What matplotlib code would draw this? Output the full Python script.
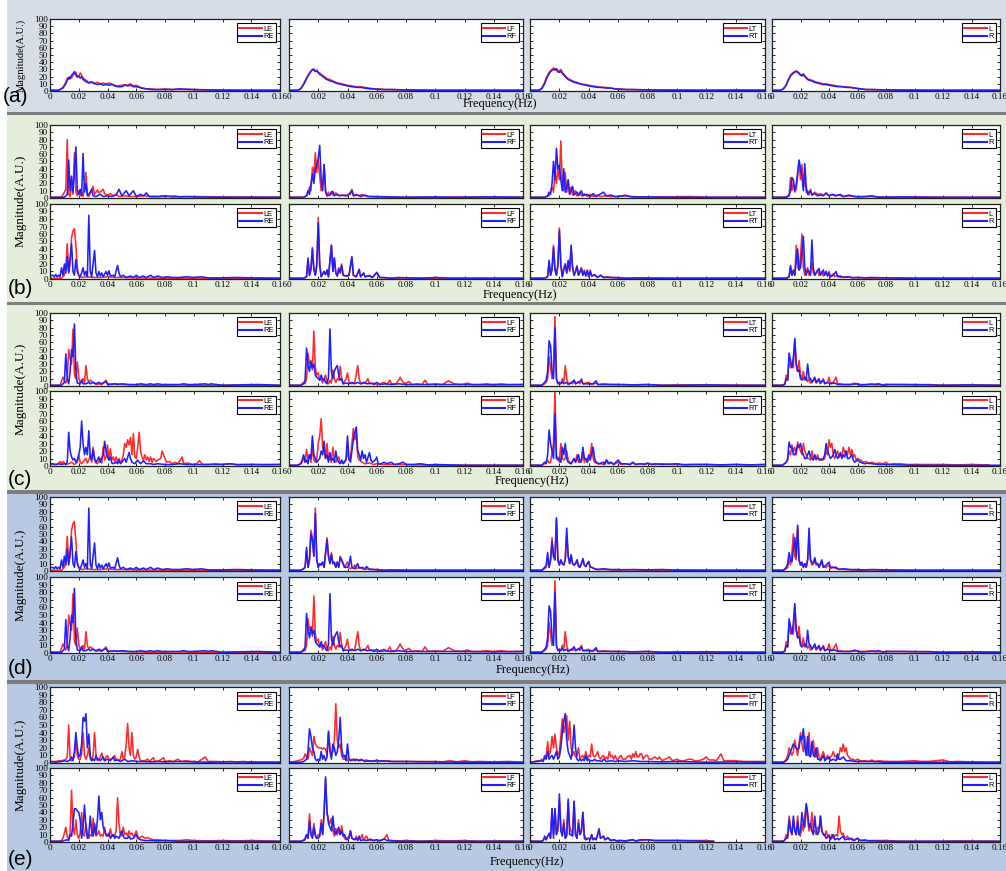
import matplotlib
matplotlib.use("Agg")
import matplotlib.pyplot as plt
from matplotlib.patches import Rectangle
from matplotlib.lines import Line2D

# ---------------- data ----------------
freq_ticks = [0, 0.02, 0.04, 0.06, 0.08, 0.10, 0.12, 0.14, 0.16]
freq_tick_labels = ['0', '0.02', '0.04', '0.06', '0.08', '0.1', '0.12', '0.14', '0.16']
mag_ticks = [0, 10, 20, 30, 40, 50, 60, 70, 80, 90, 100]
mag_tick_labels = ['0', '10', '20', '30', '40', '50', '60', '70', '80', '90', '100']
legend_labels = [('LE', 'RE'), ('LF', 'RF'), ('LT', 'RT'), ('L', 'R')]
panel_labels = ['(a)', '(b)', '(c)', '(d)', '(e)']

# (a)
a1_red = [(0,1),(0.006,1),(0.009,5),(0.011,12),(0.012,18),(0.013,16),(0.014,20),(0.015,18),(0.016,22),(0.017,24),(0.018,26),(0.019,21),(0.020,20),(0.021,25),(0.022,22),(0.023,18),(0.025,15),(0.027,12),(0.029,13),(0.031,11),(0.033,12),(0.035,10),(0.037,11),(0.039,10),(0.041,11),(0.043,10),(0.045,8),(0.047,7),(0.050,8),(0.052,9),(0.054,8),(0.056,10),(0.058,7),(0.060,8),(0.062,6),(0.064,4),(0.067,3),(0.070,3),(0.075,2),(0.080,3),(0.085,2),(0.090,2),(0.100,2),(0.110,1.5),(0.120,1.5),(0.140,1),(0.160,1)]
a1_blue = [(0,1),(0.006,1),(0.009,4),(0.011,10),(0.012,15),(0.013,19),(0.014,17),(0.015,22),(0.016,24),(0.017,27),(0.018,22),(0.019,19),(0.020,21),(0.021,18),(0.022,20),(0.023,16),(0.025,13),(0.027,11),(0.029,12),(0.031,10),(0.033,9),(0.035,10),(0.037,8),(0.039,9),(0.041,8),(0.043,9),(0.045,7),(0.047,6),(0.050,6),(0.052,8),(0.054,7),(0.056,8),(0.058,6),(0.060,6),(0.062,5),(0.064,4),(0.067,3),(0.070,2),(0.075,2),(0.080,2),(0.085,2),(0.090,3),(0.100,2),(0.110,1.5),(0.120,1),(0.140,1),(0.160,1)]
a2_red = [(0,1),(0.006,1),(0.008,3),(0.010,10),(0.011,14),(0.012,18),(0.013,22),(0.014,25),(0.015,28),(0.016,29),(0.017,31),(0.018,28),(0.019,29),(0.020,26),(0.021,25),(0.022,23),(0.023,22),(0.024,20),(0.025,19),(0.026,17),(0.028,16),(0.030,14),(0.032,12),(0.034,11),(0.036,10),(0.038,9),(0.040,8),(0.043,7),(0.046,6),(0.049,6),(0.052,5),(0.055,4),(0.058,3),(0.062,3),(0.066,2),(0.070,2),(0.080,1.5),(0.090,1.5),(0.100,1),(0.120,1),(0.160,1)]
a2_blue = [(0,1),(0.006,1),(0.008,3),(0.010,9),(0.011,13),(0.012,17),(0.013,21),(0.014,24),(0.015,27),(0.016,30),(0.017,29),(0.018,27),(0.019,28),(0.020,25),(0.021,23),(0.022,22),(0.023,20),(0.024,19),(0.025,17),(0.026,16),(0.028,14),(0.030,13),(0.032,11),(0.034,10),(0.036,9),(0.038,8),(0.040,7),(0.043,6),(0.046,5),(0.049,5),(0.052,4),(0.055,3),(0.058,3),(0.062,2),(0.066,2),(0.070,2),(0.080,1.5),(0.090,1),(0.100,1),(0.120,1),(0.160,1)]
a3_red = [(0,1),(0.006,1),(0.008,4),(0.010,12),(0.011,18),(0.012,22),(0.013,26),(0.014,28),(0.015,30),(0.016,32),(0.017,31),(0.018,29),(0.019,26),(0.020,28),(0.021,30),(0.022,26),(0.023,23),(0.024,21),(0.025,19),(0.026,17),(0.028,15),(0.030,13),(0.032,12),(0.034,10),(0.036,9),(0.038,9),(0.040,8),(0.043,7),(0.046,6),(0.049,5),(0.052,5),(0.055,4),(0.058,3),(0.062,3),(0.066,2),(0.070,2),(0.080,1.5),(0.100,1.5),(0.120,1),(0.140,1.5),(0.160,1)]
a3_blue = [(0,1),(0.006,1),(0.008,3),(0.010,10),(0.011,16),(0.012,20),(0.013,24),(0.014,27),(0.015,29),(0.016,30),(0.017,29),(0.018,31),(0.019,28),(0.020,26),(0.021,27),(0.022,25),(0.023,22),(0.024,20),(0.025,18),(0.026,16),(0.028,14),(0.030,12),(0.032,11),(0.034,10),(0.036,9),(0.038,8),(0.040,7),(0.043,6),(0.046,5),(0.049,5),(0.052,4),(0.055,4),(0.058,3),(0.062,2),(0.066,2),(0.070,2),(0.080,1.5),(0.100,1),(0.120,1),(0.160,1)]
a4_red = [(0,1),(0.006,1),(0.008,3),(0.010,9),(0.011,14),(0.012,18),(0.013,22),(0.014,24),(0.015,26),(0.016,27),(0.017,28),(0.018,27),(0.019,25),(0.020,23),(0.021,22),(0.022,24),(0.023,21),(0.024,19),(0.025,17),(0.026,16),(0.028,15),(0.030,13),(0.032,12),(0.034,11),(0.036,10),(0.038,10),(0.040,9),(0.043,8),(0.046,7),(0.049,6),(0.052,6),(0.055,5),(0.058,4),(0.062,3),(0.066,2),(0.070,2),(0.080,1.5),(0.100,1.5),(0.120,1),(0.140,1),(0.160,1)]
a4_blue = [(0,1),(0.006,1),(0.008,3),(0.010,8),(0.011,13),(0.012,17),(0.013,21),(0.014,23),(0.015,25),(0.016,26),(0.017,27),(0.018,26),(0.019,24),(0.020,22),(0.021,21),(0.022,23),(0.023,20),(0.024,18),(0.025,16),(0.026,15),(0.028,14),(0.030,12),(0.032,11),(0.034,10),(0.036,9),(0.038,9),(0.040,8),(0.043,7),(0.046,6),(0.049,6),(0.052,5),(0.055,5),(0.058,4),(0.062,3),(0.066,2),(0.070,2),(0.080,1.5),(0.100,1),(0.120,1),(0.160,1)]

# (b)
b11_red = [(0,1),(0.008,1),(0.010,8),(0.011,12),(0.012,80),(0.013,5),(0.014,2),(0.015,20),(0.016,5),(0.017,62),(0.018,8),(0.019,3),(0.020,10),(0.021,3),(0.022,8),(0.023,2),(0.025,35),(0.026,5),(0.027,2),(0.029,10),(0.030,16),(0.031,5),(0.033,11),(0.034,7),(0.036,10),(0.037,12),(0.038,6),(0.040,4),(0.042,6),(0.044,3),(0.046,5),(0.048,2),(0.052,3),(0.056,2),(0.060,2),(0.065,3),(0.070,2),(0.080,2),(0.087,3),(0.090,1.5),(0.100,2),(0.120,1.5),(0.160,1)]
b11_blue = [(0,1),(0.010,1),(0.012,5),(0.013,52),(0.014,10),(0.015,30),(0.016,8),(0.018,70),(0.019,10),(0.020,5),(0.021,12),(0.022,3),(0.023,61),(0.024,8),(0.025,20),(0.026,3),(0.028,8),(0.029,12),(0.030,3),(0.032,2),(0.035,5),(0.037,2),(0.040,3),(0.043,2),(0.046,4),(0.048,12),(0.050,3),(0.053,10),(0.055,3),(0.058,10),(0.060,2),(0.063,5),(0.065,3),(0.067,7),(0.069,2),(0.075,2),(0.080,3),(0.085,1.5),(0.095,2),(0.100,1.5),(0.120,1),(0.160,1)]
b12_red = [(0,1),(0.010,1),(0.012,3),(0.013,8),(0.014,15),(0.015,10),(0.016,42),(0.017,30),(0.018,62),(0.019,35),(0.020,52),(0.021,30),(0.022,10),(0.023,20),(0.024,45),(0.025,8),(0.026,3),(0.027,8),(0.028,4),(0.029,9),(0.030,4),(0.032,7),(0.034,3),(0.036,4),(0.038,3),(0.040,4),(0.042,5),(0.043,12),(0.044,4),(0.046,5),(0.048,3),(0.050,5),(0.052,3),(0.055,2),(0.060,1.5),(0.070,1),(0.100,1),(0.130,1.5),(0.160,1)]
b12_blue = [(0,1),(0.010,1),(0.012,3),(0.013,10),(0.014,5),(0.016,32),(0.017,20),(0.018,40),(0.019,45),(0.020,55),(0.021,72),(0.022,25),(0.023,10),(0.024,46),(0.025,10),(0.026,3),(0.028,4),(0.030,9),(0.031,3),(0.033,5),(0.035,3),(0.037,4),(0.040,3),(0.043,10),(0.044,3),(0.047,4),(0.049,2),(0.052,4),(0.054,2),(0.060,2),(0.070,1.5),(0.080,1),(0.100,1.5),(0.110,1),(0.140,1.5),(0.160,1)]
b13_red = [(0,1),(0.010,1),(0.013,3),(0.015,15),(0.016,8),(0.017,35),(0.018,20),(0.019,40),(0.020,25),(0.021,78),(0.022,20),(0.023,10),(0.024,35),(0.025,8),(0.026,20),(0.027,5),(0.028,15),(0.029,4),(0.031,10),(0.032,3),(0.034,8),(0.035,3),(0.037,6),(0.039,2),(0.041,5),(0.043,2),(0.046,4),(0.048,2),(0.051,3),(0.055,2),(0.060,2),(0.065,4),(0.068,2),(0.075,1.5),(0.090,1.5),(0.110,2),(0.120,1),(0.160,1)]
b13_blue = [(0,1),(0.010,1),(0.012,3),(0.013,8),(0.014,5),(0.015,20),(0.016,50),(0.017,25),(0.018,68),(0.019,40),(0.020,45),(0.021,25),(0.022,10),(0.023,40),(0.024,8),(0.025,15),(0.026,25),(0.027,5),(0.028,10),(0.029,16),(0.030,4),(0.032,8),(0.033,3),(0.035,10),(0.036,3),(0.039,5),(0.041,2),(0.043,6),(0.045,2),(0.050,8),(0.052,3),(0.055,4),(0.058,2),(0.065,3),(0.070,1.5),(0.080,1.5),(0.100,1),(0.160,1)]
b14_red = [(0,1),(0.010,1),(0.012,5),(0.013,28),(0.014,10),(0.015,22),(0.016,8),(0.017,12),(0.018,30),(0.019,50),(0.020,25),(0.021,46),(0.022,15),(0.023,28),(0.024,8),(0.025,10),(0.026,4),(0.027,12),(0.028,4),(0.030,8),(0.032,5),(0.034,6),(0.036,4),(0.038,6),(0.040,3),(0.042,5),(0.044,3),(0.047,4),(0.050,2),(0.055,3),(0.060,1.5),(0.070,2),(0.080,1),(0.100,1.5),(0.120,1),(0.160,1)]
b14_blue = [(0,1),(0.010,1),(0.012,3),(0.013,10),(0.014,28),(0.015,25),(0.016,10),(0.017,18),(0.018,35),(0.019,52),(0.020,40),(0.021,30),(0.022,10),(0.023,47),(0.024,15),(0.025,5),(0.026,8),(0.027,10),(0.028,4),(0.030,6),(0.032,3),(0.034,4),(0.036,3),(0.038,7),(0.040,3),(0.043,5),(0.045,3),(0.048,5),(0.050,2),(0.054,4),(0.058,2),(0.065,2),(0.070,3),(0.075,1),(0.090,1.5),(0.110,1),(0.160,1)]
b21_red = [(0,1),(0.008,1),(0.010,5),(0.011,15),(0.012,47),(0.013,10),(0.014,20),(0.015,55),(0.016,64),(0.017,67),(0.018,45),(0.019,15),(0.020,4),(0.022,2),(0.025,3),(0.030,2),(0.035,2),(0.040,3),(0.045,2),(0.050,2),(0.060,1.5),(0.080,1),(0.100,1),(0.160,1)]
b21_blue = [(0,4),(0.002,5),(0.003,3),(0.004,6),(0.005,3),(0.006,5),(0.007,3),(0.008,15),(0.009,5),(0.010,20),(0.011,8),(0.012,30),(0.013,8),(0.015,47),(0.016,10),(0.017,5),(0.018,26),(0.019,10),(0.020,5),(0.021,3),(0.022,8),(0.023,15),(0.024,5),(0.025,10),(0.026,3),(0.027,85),(0.028,10),(0.029,3),(0.031,38),(0.032,8),(0.033,3),(0.034,10),(0.035,4),(0.036,8),(0.037,3),(0.039,10),(0.040,5),(0.041,11),(0.042,4),(0.044,5),(0.045,3),(0.047,18),(0.048,8),(0.049,3),(0.051,5),(0.053,2),(0.056,4),(0.058,2),(0.060,5),(0.062,2),(0.065,4),(0.067,2),(0.070,5),(0.072,2),(0.075,4),(0.078,2),(0.082,3),(0.085,2),(0.090,2),(0.095,3),(0.100,2),(0.105,3),(0.110,1.5),(0.120,1.5),(0.130,2),(0.140,1.5),(0.160,1)]
b22_red = [(0,1),(0.010,1),(0.012,3),(0.013,25),(0.014,5),(0.015,15),(0.016,42),(0.017,15),(0.018,5),(0.019,20),(0.020,82),(0.021,20),(0.022,3),(0.024,10),(0.025,6),(0.026,12),(0.027,3),(0.029,45),(0.030,10),(0.031,28),(0.032,8),(0.033,4),(0.034,15),(0.035,10),(0.036,20),(0.037,5),(0.039,4),(0.041,5),(0.043,28),(0.044,5),(0.046,3),(0.048,12),(0.049,3),(0.051,8),(0.052,3),(0.055,5),(0.057,2),(0.060,8),(0.062,2),(0.065,1.5),(0.070,1),(0.080,1.5),(0.100,1),(0.160,1)]
b22_blue = [(0,1),(0.010,1),(0.012,3),(0.013,28),(0.014,5),(0.015,12),(0.016,40),(0.017,12),(0.018,5),(0.019,18),(0.020,75),(0.021,18),(0.022,3),(0.024,10),(0.025,6),(0.026,12),(0.027,3),(0.029,45),(0.030,10),(0.031,28),(0.032,8),(0.033,4),(0.034,13),(0.035,8),(0.036,18),(0.037,5),(0.039,4),(0.041,5),(0.043,30),(0.044,5),(0.046,3),(0.048,13),(0.049,3),(0.051,8),(0.052,3),(0.055,4),(0.057,2),(0.060,9),(0.062,2),(0.065,2),(0.070,1),(0.075,2),(0.080,1.5),(0.090,1),(0.100,2),(0.110,1),(0.160,1)]
b23_red = [(0,1),(0.010,1),(0.012,3),(0.013,22),(0.014,5),(0.015,15),(0.016,45),(0.017,15),(0.018,5),(0.019,20),(0.020,68),(0.021,20),(0.022,3),(0.023,15),(0.024,20),(0.025,8),(0.026,22),(0.027,10),(0.028,40),(0.029,15),(0.030,5),(0.031,10),(0.032,18),(0.033,5),(0.035,15),(0.036,5),(0.037,12),(0.038,4),(0.039,10),(0.040,3),(0.041,12),(0.042,4),(0.044,5),(0.046,2),(0.048,5),(0.050,2),(0.053,3),(0.055,2),(0.060,2),(0.065,1),(0.080,1.5),(0.100,1),(0.160,1)]
b23_blue = [(0,1),(0.010,1),(0.012,3),(0.013,25),(0.014,5),(0.015,12),(0.016,42),(0.017,12),(0.018,5),(0.019,18),(0.020,65),(0.021,18),(0.022,3),(0.023,12),(0.024,20),(0.025,8),(0.026,25),(0.027,12),(0.028,45),(0.029,15),(0.030,5),(0.031,10),(0.032,16),(0.033,5),(0.035,14),(0.036,5),(0.037,10),(0.038,4),(0.039,12),(0.040,3),(0.041,10),(0.042,4),(0.044,6),(0.046,2),(0.048,5),(0.050,2),(0.053,2),(0.055,2),(0.060,1.5),(0.065,1),(0.075,1.5),(0.080,1),(0.100,1),(0.160,1)]
b24_red = [(0,1),(0.010,1),(0.012,3),(0.013,15),(0.014,5),(0.015,10),(0.016,5),(0.017,45),(0.018,15),(0.019,12),(0.020,30),(0.021,60),(0.022,15),(0.023,5),(0.025,15),(0.026,5),(0.027,8),(0.028,22),(0.029,8),(0.030,5),(0.032,12),(0.033,5),(0.035,10),(0.036,4),(0.038,10),(0.039,4),(0.040,10),(0.041,3),(0.043,7),(0.044,3),(0.046,5),(0.048,2),(0.050,3),(0.055,2),(0.060,2),(0.070,1),(0.080,1.5),(0.100,1),(0.160,1)]
b24_blue = [(0,1),(0.010,1),(0.012,3),(0.013,18),(0.014,5),(0.015,12),(0.016,5),(0.017,25),(0.018,40),(0.019,12),(0.020,15),(0.021,35),(0.022,57),(0.023,15),(0.024,5),(0.025,12),(0.026,10),(0.027,5),(0.028,52),(0.029,15),(0.030,5),(0.031,8),(0.033,14),(0.034,5),(0.035,8),(0.036,12),(0.037,5),(0.038,10),(0.039,4),(0.040,8),(0.041,3),(0.043,5),(0.045,10),(0.046,3),(0.048,4),(0.050,2),(0.054,3),(0.057,1.5),(0.060,2),(0.065,1.5),(0.070,2),(0.080,1.5),(0.100,1),(0.160,1)]

# (c)
c11_red = [(0,1),(0.007,1),(0.009,12),(0.010,8),(0.011,4),(0.012,10),(0.013,50),(0.014,38),(0.015,30),(0.016,78),(0.017,15),(0.018,10),(0.019,33),(0.020,12),(0.021,3),(0.022,8),(0.023,10),(0.024,4),(0.025,28),(0.026,10),(0.027,5),(0.028,8),(0.030,5),(0.032,2),(0.034,3),(0.036,2),(0.039,8),(0.040,3),(0.043,2),(0.046,3),(0.050,2),(0.060,1.5),(0.070,1),(0.090,1.5),(0.100,1),(0.160,1)]
c11_blue = [(0,1),(0.008,1),(0.010,5),(0.011,44),(0.012,10),(0.013,3),(0.014,20),(0.015,50),(0.016,40),(0.017,85),(0.018,20),(0.019,4),(0.021,3),(0.022,8),(0.023,3),(0.025,3),(0.027,5),(0.028,3),(0.030,5),(0.032,3),(0.034,5),(0.036,3),(0.039,6),(0.040,2),(0.045,3),(0.047,2),(0.050,3),(0.055,2),(0.060,2),(0.063,3),(0.067,2),(0.070,3),(0.072,2),(0.075,3),(0.078,2),(0.085,2),(0.090,2),(0.093,3),(0.096,2),(0.100,2),(0.108,3),(0.110,2),(0.112,3),(0.120,1),(0.130,1.5),(0.145,2),(0.160,1)]
c12_red = [(0,1),(0.008,1),(0.010,5),(0.011,3),(0.012,10),(0.013,45),(0.014,30),(0.015,35),(0.016,22),(0.017,75),(0.018,25),(0.019,15),(0.020,18),(0.021,8),(0.022,10),(0.023,4),(0.025,15),(0.026,5),(0.027,3),(0.028,8),(0.029,4),(0.030,22),(0.031,10),(0.032,5),(0.033,10),(0.034,8),(0.035,27),(0.036,10),(0.037,3),(0.039,10),(0.040,18),(0.041,5),(0.043,3),(0.045,5),(0.047,28),(0.048,10),(0.049,3),(0.052,4),(0.054,10),(0.055,3),(0.058,4),(0.060,2),(0.062,3),(0.065,5),(0.067,2),(0.069,8),(0.070,3),(0.073,3),(0.075,8),(0.076,12),(0.077,8),(0.079,3),(0.082,6),(0.084,2),(0.088,3),(0.091,2),(0.093,8),(0.095,2),(0.100,3),(0.105,2),(0.109,7),(0.111,5),(0.113,3),(0.118,2),(0.122,4),(0.125,2),(0.130,2),(0.135,3),(0.140,2),(0.145,3),(0.150,2),(0.160,2)]
c12_blue = [(0,1),(0.008,1),(0.010,3),(0.011,8),(0.012,52),(0.013,30),(0.014,20),(0.015,33),(0.016,25),(0.017,30),(0.018,15),(0.019,12),(0.020,10),(0.021,8),(0.022,15),(0.023,8),(0.024,10),(0.025,5),(0.026,3),(0.027,12),(0.028,78),(0.029,20),(0.030,10),(0.031,20),(0.032,25),(0.033,28),(0.034,15),(0.035,8),(0.036,10),(0.037,3),(0.039,4),(0.041,3),(0.043,5),(0.045,3),(0.047,5),(0.049,3),(0.051,5),(0.053,3),(0.056,4),(0.058,2),(0.060,5),(0.062,2),(0.066,3),(0.070,2),(0.075,3),(0.080,2),(0.090,2),(0.100,2),(0.120,2),(0.140,1.5),(0.160,2)]
c13_red = [(0,1),(0.008,1),(0.010,3),(0.011,5),(0.012,10),(0.013,40),(0.014,25),(0.015,10),(0.016,20),(0.017,95),(0.018,10),(0.019,3),(0.020,5),(0.021,3),(0.022,10),(0.023,5),(0.024,28),(0.025,10),(0.026,3),(0.028,5),(0.029,3),(0.030,8),(0.031,3),(0.033,6),(0.034,3),(0.035,10),(0.036,3),(0.038,4),(0.040,5),(0.042,2),(0.045,4),(0.047,2),(0.050,3),(0.055,2),(0.060,2),(0.065,2),(0.070,1.5),(0.080,2),(0.090,1),(0.100,1.5),(0.160,1)]
c13_blue = [(0,1),(0.008,1),(0.010,5),(0.011,8),(0.012,20),(0.013,62),(0.014,55),(0.015,20),(0.016,10),(0.017,80),(0.018,10),(0.019,3),(0.020,5),(0.021,3),(0.022,6),(0.023,3),(0.025,5),(0.026,2),(0.028,4),(0.030,8),(0.031,3),(0.033,5),(0.035,8),(0.036,3),(0.038,3),(0.040,3),(0.043,3),(0.045,7),(0.046,2),(0.050,2),(0.055,2),(0.060,2),(0.070,1.5),(0.080,2),(0.090,1),(0.100,1),(0.120,1.5),(0.140,1),(0.160,1)]
c14_red = [(0,1),(0.007,1),(0.009,3),(0.010,15),(0.011,8),(0.012,40),(0.013,25),(0.014,30),(0.015,25),(0.016,62),(0.017,30),(0.018,20),(0.019,35),(0.020,15),(0.021,10),(0.022,20),(0.023,8),(0.024,12),(0.025,6),(0.026,10),(0.027,4),(0.028,5),(0.030,10),(0.031,4),(0.033,8),(0.034,3),(0.036,10),(0.037,4),(0.039,5),(0.040,12),(0.041,4),(0.043,5),(0.045,12),(0.046,3),(0.048,3),(0.050,2),(0.055,2),(0.058,4),(0.060,2),(0.065,2),(0.070,3),(0.072,1.5),(0.080,2),(0.090,2),(0.100,1.5),(0.110,2),(0.120,1),(0.140,1.5),(0.160,1)]
c14_blue = [(0,1),(0.007,1),(0.009,2),(0.010,10),(0.011,8),(0.012,45),(0.013,35),(0.014,25),(0.015,40),(0.016,65),(0.017,30),(0.018,20),(0.019,22),(0.020,10),(0.021,8),(0.022,10),(0.023,12),(0.024,8),(0.025,30),(0.026,12),(0.027,10),(0.028,5),(0.029,8),(0.030,12),(0.031,5),(0.033,10),(0.034,4),(0.036,8),(0.037,3),(0.039,5),(0.041,3),(0.044,4),(0.046,2),(0.050,2),(0.055,2),(0.060,3),(0.062,1.5),(0.070,2),(0.075,3),(0.078,1),(0.080,2),(0.100,2),(0.120,1),(0.140,1.5),(0.160,1)]
c21_red = [(0,2),(0.005,2),(0.007,6),(0.008,3),(0.009,6),(0.011,2),(0.013,3),(0.015,5),(0.017,2),(0.019,5),(0.020,15),(0.021,5),(0.022,3),(0.024,8),(0.025,10),(0.026,4),(0.027,8),(0.028,15),(0.029,5),(0.030,25),(0.031,8),(0.032,4),(0.033,3),(0.035,10),(0.036,4),(0.037,25),(0.038,8),(0.039,12),(0.040,28),(0.041,8),(0.042,23),(0.043,8),(0.044,12),(0.045,6),(0.046,12),(0.047,5),(0.048,10),(0.049,4),(0.050,8),(0.051,15),(0.052,30),(0.053,25),(0.054,35),(0.055,28),(0.056,38),(0.057,15),(0.058,43),(0.059,12),(0.060,10),(0.061,25),(0.062,45),(0.063,20),(0.064,12),(0.065,8),(0.066,15),(0.067,8),(0.068,12),(0.069,6),(0.070,12),(0.071,5),(0.072,10),(0.074,6),(0.075,8),(0.077,10),(0.078,20),(0.079,15),(0.080,10),(0.081,5),(0.083,6),(0.085,3),(0.087,5),(0.089,3),(0.092,12),(0.093,3),(0.096,4),(0.099,2),(0.102,3),(0.104,7),(0.106,2),(0.110,2),(0.115,3),(0.120,2),(0.125,3),(0.130,1.5),(0.140,2),(0.150,1.5),(0.160,2)]
c21_blue = [(0,3),(0.002,3),(0.004,2),(0.006,3),(0.008,2),(0.010,3),(0.011,2),(0.012,5),(0.013,45),(0.014,20),(0.015,12),(0.016,8),(0.017,10),(0.018,5),(0.019,8),(0.020,15),(0.021,25),(0.022,60),(0.023,30),(0.024,15),(0.025,25),(0.026,15),(0.027,47),(0.028,12),(0.029,8),(0.030,22),(0.031,10),(0.032,5),(0.033,8),(0.034,12),(0.035,5),(0.036,10),(0.037,15),(0.038,33),(0.039,20),(0.040,12),(0.041,8),(0.042,12),(0.043,4),(0.044,3),(0.046,5),(0.047,3),(0.048,8),(0.049,3),(0.050,5),(0.052,10),(0.053,5),(0.055,18),(0.056,10),(0.057,5),(0.059,3),(0.061,8),(0.063,3),(0.065,7),(0.067,3),(0.070,3),(0.072,2),(0.075,3),(0.080,2),(0.085,2),(0.090,3),(0.095,2),(0.100,2),(0.110,2),(0.120,2),(0.125,3),(0.130,2),(0.140,2),(0.150,2),(0.160,2)]
c22_red = [(0,1),(0.006,1),(0.008,3),(0.009,5),(0.010,12),(0.011,5),(0.012,22),(0.013,8),(0.014,15),(0.015,5),(0.016,25),(0.017,8),(0.018,5),(0.019,10),(0.020,30),(0.021,40),(0.022,63),(0.023,25),(0.024,20),(0.025,10),(0.026,30),(0.027,8),(0.028,10),(0.029,5),(0.030,25),(0.031,8),(0.032,5),(0.033,8),(0.034,12),(0.035,4),(0.037,5),(0.039,8),(0.040,20),(0.041,8),(0.042,10),(0.043,30),(0.044,50),(0.045,35),(0.046,45),(0.047,12),(0.048,8),(0.050,5),(0.052,3),(0.055,4),(0.058,2),(0.060,3),(0.065,2),(0.070,2),(0.080,2),(0.100,1),(0.160,1)]
c22_blue = [(0,1),(0.006,1),(0.008,3),(0.009,8),(0.010,15),(0.011,5),(0.012,8),(0.013,3),(0.014,15),(0.015,10),(0.016,40),(0.017,15),(0.018,10),(0.019,5),(0.020,8),(0.021,10),(0.022,20),(0.023,15),(0.024,33),(0.025,10),(0.026,15),(0.027,5),(0.028,18),(0.029,8),(0.030,10),(0.031,5),(0.032,20),(0.033,8),(0.034,5),(0.035,3),(0.036,8),(0.037,3),(0.038,5),(0.039,10),(0.040,40),(0.041,10),(0.042,5),(0.043,20),(0.044,35),(0.045,45),(0.046,52),(0.047,20),(0.048,15),(0.049,8),(0.050,20),(0.051,10),(0.052,15),(0.053,5),(0.055,18),(0.056,8),(0.057,5),(0.059,8),(0.060,12),(0.061,3),(0.063,3),(0.065,5),(0.067,3),(0.070,5),(0.072,2),(0.075,3),(0.078,5),(0.080,2),(0.085,2),(0.090,3),(0.095,1.5),(0.100,2),(0.120,1),(0.160,1)]
c23_red = [(0,1),(0.008,1),(0.010,3),(0.012,8),(0.013,4),(0.014,5),(0.016,30),(0.017,100),(0.018,10),(0.019,12),(0.020,5),(0.021,30),(0.022,10),(0.023,8),(0.024,10),(0.025,20),(0.026,8),(0.027,5),(0.028,3),(0.030,10),(0.031,5),(0.032,15),(0.033,5),(0.034,8),(0.035,5),(0.036,18),(0.037,5),(0.038,10),(0.039,5),(0.040,10),(0.041,15),(0.042,30),(0.043,10),(0.044,5),(0.046,3),(0.048,3),(0.050,2),(0.052,8),(0.053,3),(0.055,5),(0.057,2),(0.060,5),(0.062,2),(0.065,3),(0.068,2),(0.070,4),(0.072,2),(0.075,3),(0.080,3),(0.085,2),(0.090,3),(0.095,2),(0.100,2),(0.110,2),(0.120,2),(0.130,1.5),(0.140,2),(0.150,1.5),(0.160,2)]
c23_blue = [(0,1),(0.008,1),(0.010,5),(0.011,3),(0.012,15),(0.013,48),(0.014,30),(0.015,20),(0.016,10),(0.017,70),(0.018,10),(0.019,8),(0.020,10),(0.021,5),(0.022,25),(0.023,15),(0.024,30),(0.025,10),(0.026,5),(0.028,3),(0.030,10),(0.031,5),(0.033,15),(0.034,5),(0.035,8),(0.036,25),(0.037,10),(0.038,10),(0.039,5),(0.040,15),(0.041,8),(0.043,25),(0.044,10),(0.045,5),(0.047,3),(0.050,5),(0.051,2),(0.052,8),(0.054,3),(0.055,5),(0.057,2),(0.060,8),(0.062,3),(0.065,3),(0.068,2),(0.070,5),(0.072,2),(0.075,3),(0.078,2),(0.080,4),(0.083,2),(0.085,3),(0.090,2),(0.100,3),(0.105,1.5),(0.110,2),(0.120,2),(0.130,1.5),(0.140,2),(0.150,1.5),(0.160,2)]
c24_red = [(0,1),(0.007,1),(0.008,2),(0.010,5),(0.011,8),(0.012,20),(0.013,15),(0.014,28),(0.015,20),(0.016,25),(0.017,15),(0.018,32),(0.019,25),(0.020,20),(0.021,15),(0.022,30),(0.023,20),(0.024,15),(0.025,10),(0.026,10),(0.027,8),(0.028,20),(0.029,10),(0.030,10),(0.031,8),(0.032,15),(0.033,8),(0.035,10),(0.036,8),(0.037,10),(0.038,20),(0.039,15),(0.040,35),(0.041,25),(0.042,30),(0.043,15),(0.044,10),(0.045,15),(0.046,20),(0.047,12),(0.048,15),(0.049,12),(0.050,25),(0.051,18),(0.052,20),(0.053,15),(0.054,25),(0.055,15),(0.056,22),(0.057,12),(0.058,15),(0.059,8),(0.060,10),(0.062,8),(0.064,5),(0.066,6),(0.068,3),(0.070,5),(0.073,3),(0.075,4),(0.078,3),(0.080,5),(0.082,2),(0.085,3),(0.090,3),(0.095,2),(0.100,2),(0.110,2),(0.120,2),(0.130,1.5),(0.140,2),(0.150,1.5),(0.152,1.5)]
c24_blue = [(0,1),(0.007,1),(0.008,2),(0.010,5),(0.011,10),(0.012,32),(0.013,25),(0.014,25),(0.015,15),(0.016,15),(0.017,20),(0.018,28),(0.019,25),(0.020,30),(0.021,20),(0.022,15),(0.023,10),(0.024,10),(0.025,15),(0.026,20),(0.027,12),(0.028,10),(0.029,8),(0.030,15),(0.031,10),(0.032,10),(0.034,8),(0.035,8),(0.036,10),(0.037,15),(0.038,30),(0.039,20),(0.040,15),(0.041,10),(0.042,12),(0.043,15),(0.044,22),(0.045,15),(0.046,10),(0.047,12),(0.048,18),(0.049,10),(0.050,15),(0.051,12),(0.052,20),(0.053,10),(0.054,10),(0.055,12),(0.056,15),(0.057,8),(0.058,5),(0.060,8),(0.062,5),(0.065,3),(0.068,4),(0.070,3),(0.075,2),(0.080,2),(0.090,1.5),(0.100,1),(0.120,1),(0.140,1),(0.160,1)]

# (d)
d11_red = [(0,1),(0.008,1),(0.010,5),(0.011,15),(0.012,47),(0.013,10),(0.014,20),(0.015,55),(0.016,64),(0.017,67),(0.018,40),(0.019,12),(0.020,4),(0.022,2),(0.025,3),(0.030,2),(0.035,2),(0.040,3),(0.045,2),(0.050,2),(0.060,1.5),(0.080,1),(0.100,1),(0.160,1)]
d11_blue = [(0,4),(0.002,5),(0.003,3),(0.004,6),(0.005,3),(0.006,5),(0.007,3),(0.008,15),(0.009,5),(0.010,20),(0.011,8),(0.012,30),(0.013,8),(0.015,46),(0.016,10),(0.017,5),(0.018,26),(0.019,10),(0.020,5),(0.021,3),(0.022,8),(0.023,15),(0.024,5),(0.025,10),(0.026,3),(0.027,85),(0.028,10),(0.029,3),(0.031,38),(0.032,8),(0.033,3),(0.034,10),(0.035,4),(0.036,8),(0.037,3),(0.039,10),(0.040,5),(0.041,11),(0.042,4),(0.044,5),(0.045,3),(0.047,18),(0.048,8),(0.049,3),(0.051,5),(0.053,2),(0.056,4),(0.058,2),(0.060,5),(0.062,2),(0.065,4),(0.067,2),(0.070,5),(0.072,2),(0.075,4),(0.078,2),(0.082,3),(0.085,2),(0.090,2),(0.095,3),(0.100,2),(0.105,3),(0.110,1.5),(0.120,1.5),(0.130,2),(0.140,1.5),(0.160,1)]
d12_red = [(0,1),(0.008,1),(0.010,3),(0.011,5),(0.012,28),(0.013,5),(0.014,15),(0.015,55),(0.016,45),(0.017,20),(0.018,85),(0.019,15),(0.020,5),(0.021,10),(0.022,8),(0.023,12),(0.024,5),(0.026,45),(0.027,20),(0.028,10),(0.029,25),(0.030,10),(0.031,12),(0.032,5),(0.033,12),(0.034,5),(0.035,20),(0.036,15),(0.037,10),(0.038,5),(0.040,12),(0.041,5),(0.042,3),(0.044,5),(0.045,8),(0.046,3),(0.048,5),(0.050,3),(0.052,2),(0.055,3),(0.058,2),(0.060,1.5),(0.065,1),(0.070,1.5),(0.080,1),(0.100,1),(0.160,1)]
d12_blue = [(0,1),(0.008,1),(0.010,3),(0.011,5),(0.012,32),(0.013,5),(0.014,15),(0.015,50),(0.016,42),(0.017,20),(0.018,78),(0.019,15),(0.020,5),(0.021,10),(0.022,8),(0.023,12),(0.024,5),(0.026,42),(0.027,20),(0.028,10),(0.029,22),(0.030,10),(0.031,12),(0.032,5),(0.033,12),(0.034,5),(0.035,18),(0.036,15),(0.037,10),(0.038,5),(0.040,5),(0.041,8),(0.042,20),(0.043,5),(0.045,3),(0.047,10),(0.048,4),(0.050,5),(0.052,3),(0.053,6),(0.055,2),(0.058,2),(0.060,2),(0.065,1),(0.070,1.5),(0.080,1),(0.100,1),(0.160,1)]
d13_red = [(0,1),(0.008,1),(0.010,3),(0.011,5),(0.012,15),(0.013,5),(0.014,15),(0.015,45),(0.016,20),(0.017,15),(0.018,70),(0.019,15),(0.020,8),(0.021,15),(0.022,10),(0.023,8),(0.024,15),(0.025,50),(0.026,20),(0.027,10),(0.028,20),(0.029,10),(0.030,8),(0.031,10),(0.032,15),(0.033,8),(0.034,6),(0.035,10),(0.036,15),(0.037,8),(0.038,6),(0.039,10),(0.040,12),(0.041,5),(0.042,5),(0.044,3),(0.046,2),(0.050,2),(0.055,1.5),(0.060,1),(0.065,2),(0.070,1.5),(0.080,1),(0.100,1.5),(0.120,1),(0.160,1)]
d13_blue = [(0,1),(0.008,1),(0.010,5),(0.011,8),(0.012,25),(0.013,5),(0.014,15),(0.015,40),(0.016,20),(0.017,15),(0.018,72),(0.019,15),(0.020,8),(0.021,15),(0.022,10),(0.023,8),(0.024,15),(0.025,58),(0.026,20),(0.027,10),(0.028,22),(0.029,10),(0.030,8),(0.031,10),(0.032,15),(0.033,6),(0.034,5),(0.035,10),(0.036,17),(0.037,8),(0.038,6),(0.039,10),(0.040,13),(0.041,5),(0.042,5),(0.044,3),(0.046,2),(0.050,3),(0.055,2),(0.060,2),(0.065,1.5),(0.070,2),(0.080,1.5),(0.090,2),(0.100,1),(0.120,1),(0.160,1)]
d14_red = [(0,1),(0.008,1),(0.010,3),(0.011,5),(0.012,15),(0.013,8),(0.014,25),(0.015,50),(0.016,20),(0.017,15),(0.018,60),(0.019,15),(0.020,8),(0.021,10),(0.022,5),(0.023,10),(0.024,5),(0.025,15),(0.026,40),(0.027,15),(0.028,8),(0.029,10),(0.030,15),(0.031,8),(0.032,10),(0.033,5),(0.035,12),(0.036,5),(0.038,5),(0.040,8),(0.041,3),(0.043,5),(0.045,3),(0.050,2),(0.055,1.5),(0.060,1),(0.070,1.5),(0.080,1),(0.100,1),(0.160,1)]
d14_blue = [(0,1),(0.008,1),(0.010,5),(0.011,10),(0.012,25),(0.013,15),(0.014,12),(0.015,30),(0.016,45),(0.017,20),(0.018,62),(0.019,15),(0.020,8),(0.021,12),(0.022,5),(0.023,10),(0.024,5),(0.025,15),(0.026,58),(0.027,15),(0.028,12),(0.029,10),(0.030,18),(0.031,10),(0.032,10),(0.033,5),(0.035,15),(0.036,5),(0.038,8),(0.040,12),(0.041,5),(0.043,5),(0.045,5),(0.047,2),(0.050,3),(0.055,2),(0.060,2),(0.065,1.5),(0.070,2),(0.080,1.5),(0.100,1),(0.120,1),(0.160,1)]
d21_red = [(0,1),(0.007,1),(0.009,12),(0.010,8),(0.011,4),(0.012,10),(0.013,50),(0.014,38),(0.015,30),(0.016,78),(0.017,15),(0.018,10),(0.019,33),(0.020,12),(0.021,3),(0.022,8),(0.023,10),(0.024,4),(0.025,28),(0.026,10),(0.027,5),(0.028,8),(0.030,5),(0.032,2),(0.034,3),(0.036,2),(0.039,8),(0.040,3),(0.043,2),(0.046,3),(0.050,2),(0.060,1.5),(0.070,1),(0.090,1.5),(0.100,1),(0.160,1)]
d21_blue = [(0,1),(0.008,1),(0.010,5),(0.011,44),(0.012,10),(0.013,3),(0.014,20),(0.015,50),(0.016,40),(0.017,85),(0.018,20),(0.019,4),(0.021,3),(0.022,8),(0.023,3),(0.025,3),(0.027,5),(0.028,3),(0.030,5),(0.032,3),(0.034,5),(0.036,3),(0.039,6),(0.040,2),(0.045,3),(0.047,2),(0.050,3),(0.055,2),(0.060,2),(0.063,3),(0.067,2),(0.070,3),(0.072,2),(0.075,3),(0.078,2),(0.085,2),(0.090,2),(0.093,3),(0.096,2),(0.100,2),(0.108,3),(0.110,2),(0.112,3),(0.120,1),(0.130,1.5),(0.145,2),(0.160,1)]
d22_red = [(0,1),(0.008,1),(0.010,5),(0.011,3),(0.012,10),(0.013,45),(0.014,30),(0.015,35),(0.016,22),(0.017,75),(0.018,25),(0.019,15),(0.020,18),(0.021,8),(0.022,10),(0.023,4),(0.025,15),(0.026,5),(0.027,3),(0.028,8),(0.029,4),(0.030,22),(0.031,10),(0.032,5),(0.033,10),(0.034,8),(0.035,27),(0.036,10),(0.037,3),(0.039,10),(0.040,18),(0.041,5),(0.043,3),(0.045,5),(0.047,28),(0.048,10),(0.049,3),(0.052,4),(0.054,10),(0.055,3),(0.058,4),(0.060,2),(0.062,3),(0.065,5),(0.067,2),(0.069,8),(0.070,3),(0.073,3),(0.075,8),(0.076,12),(0.077,8),(0.079,3),(0.082,6),(0.084,2),(0.088,3),(0.091,2),(0.093,8),(0.095,2),(0.100,3),(0.105,2),(0.109,7),(0.111,5),(0.113,3),(0.118,2),(0.122,4),(0.125,2),(0.130,2),(0.135,3),(0.140,2),(0.145,3),(0.150,2),(0.160,2)]
d22_blue = [(0,1),(0.008,1),(0.010,3),(0.011,8),(0.012,52),(0.013,30),(0.014,20),(0.015,33),(0.016,25),(0.017,30),(0.018,15),(0.019,12),(0.020,10),(0.021,8),(0.022,15),(0.023,8),(0.024,10),(0.025,5),(0.026,3),(0.027,12),(0.028,78),(0.029,20),(0.030,10),(0.031,20),(0.032,25),(0.033,28),(0.034,15),(0.035,8),(0.036,10),(0.037,3),(0.039,4),(0.041,3),(0.043,5),(0.045,3),(0.047,5),(0.049,3),(0.051,5),(0.053,3),(0.056,4),(0.058,2),(0.060,5),(0.062,2),(0.066,3),(0.070,2),(0.075,3),(0.080,2),(0.090,2),(0.100,2),(0.120,2),(0.140,1.5),(0.160,2)]
d23_red = [(0,1),(0.008,1),(0.010,3),(0.011,5),(0.012,10),(0.013,40),(0.014,25),(0.015,10),(0.016,20),(0.017,95),(0.018,10),(0.019,3),(0.020,5),(0.021,3),(0.022,10),(0.023,5),(0.024,28),(0.025,10),(0.026,3),(0.028,5),(0.029,3),(0.030,8),(0.031,3),(0.033,6),(0.034,3),(0.035,10),(0.036,3),(0.038,4),(0.040,5),(0.042,2),(0.045,4),(0.047,2),(0.050,3),(0.055,2),(0.060,2),(0.065,2),(0.070,1.5),(0.080,2),(0.090,1),(0.100,1.5),(0.160,1)]
d23_blue = [(0,1),(0.008,1),(0.010,5),(0.011,8),(0.012,20),(0.013,62),(0.014,55),(0.015,20),(0.016,10),(0.017,80),(0.018,10),(0.019,3),(0.020,5),(0.021,3),(0.022,6),(0.023,3),(0.025,5),(0.026,2),(0.028,4),(0.030,8),(0.031,3),(0.033,5),(0.035,8),(0.036,3),(0.038,3),(0.040,3),(0.043,3),(0.045,7),(0.046,2),(0.050,2),(0.055,2),(0.060,2),(0.070,1.5),(0.080,2),(0.090,1),(0.100,1),(0.120,1.5),(0.140,1),(0.160,1)]
d24_red = [(0,1),(0.007,1),(0.009,3),(0.010,15),(0.011,8),(0.012,40),(0.013,25),(0.014,30),(0.015,25),(0.016,62),(0.017,30),(0.018,20),(0.019,35),(0.020,15),(0.021,10),(0.022,20),(0.023,8),(0.024,12),(0.025,6),(0.026,10),(0.027,4),(0.028,5),(0.030,10),(0.031,4),(0.033,8),(0.034,3),(0.036,10),(0.037,4),(0.039,5),(0.040,12),(0.041,4),(0.043,5),(0.045,12),(0.046,3),(0.048,3),(0.050,2),(0.055,2),(0.058,4),(0.060,2),(0.065,2),(0.070,3),(0.072,1.5),(0.080,2),(0.090,2),(0.100,1.5),(0.110,2),(0.120,1),(0.140,1.5),(0.160,1)]
d24_blue = [(0,1),(0.007,1),(0.009,2),(0.010,10),(0.011,8),(0.012,45),(0.013,35),(0.014,25),(0.015,40),(0.016,65),(0.017,30),(0.018,20),(0.019,22),(0.020,10),(0.021,8),(0.022,10),(0.023,12),(0.024,8),(0.025,30),(0.026,12),(0.027,10),(0.028,5),(0.029,8),(0.030,12),(0.031,5),(0.033,10),(0.034,4),(0.036,8),(0.037,3),(0.039,5),(0.041,3),(0.044,4),(0.046,2),(0.050,2),(0.055,2),(0.060,3),(0.062,1.5),(0.070,2),(0.075,3),(0.078,1),(0.080,2),(0.100,2),(0.120,1),(0.140,1.5),(0.160,1)]

# (e)
e11_red = [(0,2),(0.004,2),(0.006,3),(0.008,3),(0.010,4),(0.011,5),(0.012,8),(0.013,50),(0.014,5),(0.015,3),(0.016,5),(0.017,8),(0.018,30),(0.019,10),(0.020,5),(0.021,5),(0.022,12),(0.023,40),(0.024,10),(0.025,5),(0.026,10),(0.027,20),(0.028,5),(0.029,3),(0.030,10),(0.031,40),(0.032,10),(0.033,3),(0.034,5),(0.035,8),(0.036,13),(0.037,5),(0.038,3),(0.039,8),(0.040,10),(0.041,4),(0.042,5),(0.044,6),(0.045,10),(0.046,4),(0.047,5),(0.048,3),(0.049,5),(0.050,15),(0.051,5),(0.052,8),(0.053,25),(0.054,52),(0.055,20),(0.056,10),(0.057,40),(0.058,10),(0.059,5),(0.060,8),(0.061,18),(0.062,8),(0.063,3),(0.066,3),(0.068,5),(0.069,2),(0.072,7),(0.073,2),(0.076,3),(0.079,7),(0.080,2),(0.083,3),(0.086,2),(0.089,5),(0.091,2),(0.095,3),(0.098,2),(0.100,2),(0.103,1.5),(0.108,8),(0.110,2),(0.115,2),(0.120,1.5),(0.125,2),(0.130,1.5),(0.135,2),(0.140,1),(0.160,1)]
e11_blue = [(0,2),(0.004,1),(0.008,2),(0.010,3),(0.012,2),(0.014,4),(0.015,8),(0.016,3),(0.017,15),(0.018,40),(0.019,20),(0.020,8),(0.021,10),(0.022,25),(0.023,60),(0.024,55),(0.025,65),(0.026,20),(0.027,38),(0.028,10),(0.029,3),(0.030,5),(0.031,3),(0.032,10),(0.033,4),(0.034,5),(0.035,3),(0.037,8),(0.038,3),(0.040,5),(0.042,3),(0.044,8),(0.045,3),(0.047,4),(0.049,2),(0.052,5),(0.054,2),(0.058,3),(0.060,2),(0.065,2),(0.070,1.5),(0.075,2),(0.080,1.5),(0.090,2),(0.100,1.5),(0.110,1),(0.120,1.5),(0.160,1)]
e12_red = [(0,1),(0.004,2),(0.006,3),(0.008,4),(0.010,6),(0.011,12),(0.012,8),(0.013,5),(0.014,20),(0.015,15),(0.016,10),(0.017,35),(0.018,25),(0.019,22),(0.020,20),(0.021,20),(0.022,20),(0.023,18),(0.024,20),(0.025,18),(0.026,10),(0.027,40),(0.028,20),(0.029,10),(0.030,15),(0.031,30),(0.032,78),(0.033,30),(0.034,20),(0.035,25),(0.036,10),(0.037,5),(0.038,5),(0.039,10),(0.040,3),(0.042,5),(0.043,3),(0.045,5),(0.047,3),(0.049,5),(0.051,3),(0.053,4),(0.055,2),(0.058,3),(0.060,2),(0.063,3),(0.065,2),(0.068,3),(0.070,2),(0.075,2),(0.080,2),(0.090,2),(0.100,2),(0.105,1.5),(0.110,3),(0.115,1.5),(0.120,3),(0.125,1.5),(0.130,2),(0.140,1.5),(0.150,2),(0.160,1)]
e12_blue = [(0,1),(0.008,1),(0.010,2),(0.012,5),(0.013,15),(0.014,45),(0.015,35),(0.016,20),(0.017,15),(0.018,5),(0.019,3),(0.020,5),(0.021,3),(0.022,15),(0.023,5),(0.024,10),(0.025,3),(0.026,8),(0.027,42),(0.028,15),(0.029,5),(0.030,25),(0.031,20),(0.032,10),(0.033,15),(0.034,30),(0.035,60),(0.036,20),(0.037,8),(0.038,10),(0.039,3),(0.040,25),(0.041,5),(0.042,3),(0.044,5),(0.045,3),(0.046,5),(0.048,3),(0.050,4),(0.052,2),(0.055,3),(0.058,2),(0.060,4),(0.062,2),(0.065,3),(0.068,2),(0.070,2),(0.080,2),(0.090,1.5),(0.100,1.5),(0.120,1),(0.160,1)]
e13_red = [(0,1),(0.003,2),(0.005,3),(0.007,3),(0.008,5),(0.009,3),(0.010,10),(0.011,8),(0.012,28),(0.013,10),(0.014,15),(0.015,35),(0.016,20),(0.017,38),(0.018,20),(0.019,10),(0.020,15),(0.021,35),(0.022,58),(0.023,40),(0.024,50),(0.025,62),(0.026,30),(0.027,55),(0.028,20),(0.029,10),(0.030,15),(0.031,8),(0.032,10),(0.033,20),(0.034,5),(0.035,8),(0.036,10),(0.037,5),(0.038,15),(0.039,5),(0.040,10),(0.041,8),(0.042,25),(0.043,10),(0.044,8),(0.045,10),(0.046,15),(0.047,8),(0.048,5),(0.049,8),(0.050,10),(0.051,5),(0.052,8),(0.053,5),(0.054,15),(0.055,8),(0.056,10),(0.057,5),(0.058,10),(0.059,5),(0.060,5),(0.061,8),(0.062,10),(0.063,5),(0.065,5),(0.066,8),(0.068,10),(0.069,5),(0.070,12),(0.071,8),(0.072,15),(0.073,8),(0.074,8),(0.075,12),(0.076,12),(0.077,5),(0.078,8),(0.079,10),(0.080,10),(0.081,5),(0.083,5),(0.085,8),(0.087,5),(0.088,8),(0.090,3),(0.092,5),(0.095,8),(0.097,3),(0.100,5),(0.102,3),(0.105,3),(0.108,5),(0.110,5),(0.112,3),(0.115,3),(0.118,5),(0.120,8),(0.122,4),(0.125,4),(0.127,3),(0.130,12),(0.132,3),(0.135,3),(0.140,3),(0.145,2),(0.150,2),(0.155,2),(0.160,2)]
e13_blue = [(0,1),(0.005,2),(0.008,3),(0.009,2),(0.010,8),(0.011,5),(0.012,15),(0.013,5),(0.014,8),(0.015,10),(0.016,5),(0.017,10),(0.018,15),(0.019,5),(0.020,8),(0.021,20),(0.022,40),(0.023,55),(0.024,65),(0.025,30),(0.026,15),(0.027,10),(0.028,5),(0.029,20),(0.030,50),(0.031,20),(0.032,5),(0.033,3),(0.034,5),(0.035,3),(0.036,5),(0.037,3),(0.038,10),(0.039,3),(0.040,5),(0.041,3),(0.043,3),(0.044,5),(0.045,3),(0.047,3),(0.049,2),(0.050,5),(0.052,2),(0.055,3),(0.058,2),(0.060,3),(0.065,2),(0.070,3),(0.075,2),(0.080,2),(0.090,1.5),(0.100,2),(0.110,1.5),(0.120,1),(0.140,1.5),(0.160,1)]
e14_red = [(0,1),(0.008,1),(0.009,3),(0.010,5),(0.011,10),(0.012,20),(0.013,15),(0.014,10),(0.015,15),(0.016,30),(0.017,20),(0.018,10),(0.019,25),(0.020,40),(0.021,25),(0.022,15),(0.023,35),(0.024,15),(0.025,10),(0.026,40),(0.027,10),(0.028,15),(0.029,30),(0.030,12),(0.031,8),(0.032,20),(0.033,8),(0.034,5),(0.035,10),(0.036,15),(0.037,8),(0.038,5),(0.039,10),(0.040,5),(0.042,10),(0.043,15),(0.044,8),(0.045,10),(0.046,5),(0.047,10),(0.048,20),(0.049,15),(0.050,25),(0.051,15),(0.052,20),(0.053,10),(0.054,8),(0.055,5),(0.057,5),(0.058,3),(0.060,5),(0.062,3),(0.065,3),(0.068,2),(0.070,4),(0.072,2),(0.075,3),(0.080,2),(0.090,2),(0.100,3),(0.105,2),(0.110,2),(0.120,4),(0.125,1.5),(0.130,2),(0.140,1.5),(0.150,1),(0.160,1)]
e14_blue = [(0,1),(0.008,1),(0.010,3),(0.011,5),(0.012,10),(0.013,15),(0.014,20),(0.015,25),(0.016,22),(0.017,20),(0.018,18),(0.019,20),(0.020,35),(0.021,30),(0.022,45),(0.023,20),(0.024,10),(0.025,35),(0.026,10),(0.027,8),(0.028,28),(0.029,10),(0.030,8),(0.031,20),(0.032,5),(0.033,5),(0.034,3),(0.036,10),(0.037,3),(0.038,5),(0.040,8),(0.041,3),(0.043,5),(0.045,3),(0.046,12),(0.047,5),(0.048,5),(0.050,8),(0.052,3),(0.055,3),(0.058,2),(0.060,2),(0.065,2),(0.070,2),(0.080,1),(0.100,1),(0.120,1),(0.160,1)]
e21_red = [(0,1),(0.006,1),(0.008,2),(0.009,5),(0.010,12),(0.011,20),(0.012,8),(0.013,3),(0.014,12),(0.015,70),(0.016,20),(0.017,10),(0.018,30),(0.019,10),(0.020,5),(0.021,12),(0.022,40),(0.023,10),(0.024,8),(0.025,25),(0.026,10),(0.027,5),(0.028,10),(0.029,8),(0.030,32),(0.031,15),(0.032,8),(0.033,10),(0.034,15),(0.035,8),(0.036,10),(0.037,8),(0.038,20),(0.039,8),(0.040,10),(0.041,8),(0.042,18),(0.043,8),(0.044,10),(0.045,8),(0.046,15),(0.047,60),(0.048,25),(0.049,10),(0.050,8),(0.051,20),(0.052,10),(0.053,12),(0.054,8),(0.055,15),(0.056,10),(0.057,12),(0.058,8),(0.059,10),(0.060,15),(0.061,8),(0.062,5),(0.064,8),(0.066,5),(0.068,6),(0.070,4),(0.072,3),(0.075,3),(0.080,2),(0.085,2),(0.090,2),(0.095,3),(0.100,2),(0.110,1.5),(0.120,2),(0.130,1.5),(0.140,2),(0.150,1.5),(0.160,1)]
e21_blue = [(0,1),(0.008,1),(0.010,2),(0.012,3),(0.013,2),(0.014,10),(0.015,8),(0.016,25),(0.017,45),(0.018,45),(0.019,42),(0.020,40),(0.021,30),(0.022,5),(0.023,20),(0.024,50),(0.025,20),(0.026,5),(0.027,10),(0.028,35),(0.029,15),(0.030,8),(0.031,25),(0.032,10),(0.033,30),(0.034,62),(0.035,30),(0.036,40),(0.037,20),(0.038,15),(0.039,10),(0.040,8),(0.041,12),(0.042,5),(0.044,10),(0.045,5),(0.046,8),(0.048,5),(0.050,15),(0.051,8),(0.052,5),(0.054,5),(0.055,8),(0.056,4),(0.058,5),(0.060,10),(0.061,5),(0.063,3),(0.066,2),(0.070,2),(0.075,1.5),(0.080,2),(0.090,1),(0.100,1),(0.120,1),(0.160,1)]
e22_red = [(0,1),(0.008,1),(0.010,3),(0.011,5),(0.012,10),(0.013,5),(0.014,38),(0.015,12),(0.016,8),(0.017,25),(0.018,10),(0.019,5),(0.020,10),(0.021,8),(0.022,30),(0.023,10),(0.024,40),(0.025,85),(0.026,40),(0.027,30),(0.028,25),(0.029,32),(0.030,15),(0.031,8),(0.032,18),(0.033,10),(0.034,15),(0.035,10),(0.036,22),(0.037,10),(0.038,5),(0.039,3),(0.041,8),(0.042,15),(0.043,5),(0.045,3),(0.046,8),(0.047,3),(0.049,5),(0.050,10),(0.051,3),(0.053,8),(0.054,3),(0.056,4),(0.058,2),(0.060,3),(0.062,2),(0.065,4),(0.067,10),(0.068,3),(0.070,2),(0.075,1.5),(0.080,2),(0.090,1),(0.100,2),(0.110,1.5),(0.120,2),(0.130,1),(0.140,1.5),(0.160,1)]
e22_blue = [(0,1),(0.008,1),(0.010,2),(0.011,3),(0.012,10),(0.013,5),(0.014,28),(0.015,10),(0.016,5),(0.017,20),(0.018,8),(0.019,5),(0.020,5),(0.021,8),(0.022,25),(0.023,10),(0.024,40),(0.025,88),(0.026,40),(0.027,25),(0.028,20),(0.029,15),(0.030,35),(0.031,15),(0.032,10),(0.033,15),(0.034,20),(0.035,10),(0.036,15),(0.037,8),(0.038,10),(0.039,5),(0.040,3),(0.041,5),(0.042,15),(0.043,5),(0.045,3),(0.046,5),(0.047,2),(0.048,8),(0.049,2),(0.051,3),(0.053,2),(0.055,3),(0.058,2),(0.060,3),(0.062,1.5),(0.065,4),(0.067,2),(0.070,1.5),(0.080,1),(0.100,1),(0.120,1),(0.160,1)]
e23_red = [(0,1),(0.008,1),(0.009,3),(0.010,5),(0.011,3),(0.012,8),(0.013,10),(0.014,5),(0.015,45),(0.016,10),(0.017,45),(0.018,10),(0.019,15),(0.020,55),(0.021,20),(0.022,10),(0.023,30),(0.024,5),(0.025,10),(0.026,55),(0.027,20),(0.028,15),(0.029,10),(0.030,55),(0.031,10),(0.032,5),(0.033,30),(0.034,10),(0.035,15),(0.036,40),(0.037,10),(0.038,5),(0.040,5),(0.041,3),(0.042,10),(0.043,3),(0.044,5),(0.045,3),(0.047,15),(0.048,5),(0.050,8),(0.051,3),(0.053,5),(0.055,2),(0.057,3),(0.059,1.5),(0.062,2),(0.065,1.5),(0.070,3),(0.072,1.5),(0.075,2),(0.080,3),(0.085,2),(0.090,2),(0.100,2),(0.110,2),(0.120,2),(0.125,1)]
e23_blue = [(0,1),(0.008,1),(0.009,2),(0.010,8),(0.011,3),(0.012,8),(0.013,12),(0.014,5),(0.015,45),(0.016,5),(0.017,45),(0.018,10),(0.019,20),(0.020,65),(0.021,15),(0.022,8),(0.023,25),(0.024,5),(0.025,8),(0.026,58),(0.027,10),(0.028,10),(0.029,8),(0.030,55),(0.031,10),(0.032,5),(0.033,25),(0.034,10),(0.035,15),(0.036,40),(0.037,5),(0.038,3),(0.040,5),(0.041,3),(0.042,10),(0.043,3),(0.044,5),(0.045,3),(0.047,18),(0.048,5),(0.050,8),(0.051,3),(0.053,6),(0.055,2),(0.057,3),(0.059,1.5),(0.062,2),(0.065,1.5),(0.070,3),(0.072,1.5),(0.075,3),(0.080,3),(0.085,2),(0.090,2),(0.100,2),(0.110,1.5),(0.120,1),(0.125,1)]
e24_red = [(0,1),(0.008,1),(0.009,3),(0.010,10),(0.011,5),(0.012,35),(0.013,20),(0.014,10),(0.015,30),(0.016,15),(0.017,10),(0.018,35),(0.019,10),(0.020,8),(0.021,25),(0.022,15),(0.023,35),(0.024,50),(0.025,30),(0.026,15),(0.027,20),(0.028,40),(0.029,15),(0.030,15),(0.031,10),(0.032,20),(0.033,15),(0.034,35),(0.035,15),(0.036,10),(0.037,8),(0.038,15),(0.039,8),(0.040,10),(0.041,5),(0.042,10),(0.043,5),(0.044,8),(0.045,10),(0.046,8),(0.047,35),(0.048,15),(0.049,10),(0.050,12),(0.051,5),(0.053,8),(0.054,3),(0.056,5),(0.058,2),(0.060,5),(0.062,2),(0.065,3),(0.068,1.5),(0.070,2),(0.080,2),(0.090,1),(0.100,1),(0.120,1),(0.130,1.5),(0.160,1)]
e24_blue = [(0,1),(0.008,1),(0.010,5),(0.011,8),(0.012,30),(0.013,15),(0.014,10),(0.015,35),(0.016,15),(0.017,10),(0.018,28),(0.019,10),(0.020,15),(0.021,40),(0.022,25),(0.023,20),(0.024,52),(0.025,40),(0.026,20),(0.027,25),(0.028,15),(0.029,10),(0.030,35),(0.031,15),(0.032,10),(0.033,15),(0.034,35),(0.035,15),(0.036,10),(0.037,10),(0.038,5),(0.040,8),(0.041,3),(0.043,10),(0.044,3),(0.046,5),(0.047,3),(0.050,8),(0.051,3),(0.053,4),(0.055,5),(0.057,2),(0.060,5),(0.062,2),(0.065,2),(0.070,1.5),(0.080,1),(0.100,1),(0.120,1),(0.160,1)]

# ---------------- structure ----------------
band_series = [
    [[(a1_red, a1_blue), (a2_red, a2_blue), (a3_red, a3_blue), (a4_red, a4_blue)]],
    [[(b11_red, b11_blue), (b12_red, b12_blue), (b13_red, b13_blue), (b14_red, b14_blue)],
     [(b21_red, b21_blue), (b22_red, b22_blue), (b23_red, b23_blue), (b24_red, b24_blue)]],
    [[(c11_red, c11_blue), (c12_red, c12_blue), (c13_red, c13_blue), (c14_red, c14_blue)],
     [(c21_red, c21_blue), (c22_red, c22_blue), (c23_red, c23_blue), (c24_red, c24_blue)]],
    [[(d11_red, d11_blue), (d12_red, d12_blue), (d13_red, d13_blue), (d14_red, d14_blue)],
     [(d21_red, d21_blue), (d22_red, d22_blue), (d23_red, d23_blue), (d24_red, d24_blue)]],
    [[(e11_red, e11_blue), (e12_red, e12_blue), (e13_red, e13_blue), (e14_red, e14_blue)],
     [(e21_red, e21_blue), (e22_red, e22_blue), (e23_red, e23_blue), (e24_red, e24_blue)]],
]

# ---------------- layout (pixels) ----------------
W, H = 1006, 871
col_px = [(50, 280), (289, 523), (530, 765), (772, 1000)]
band_rows_px = [
    [(19, 91)],
    [(125, 198), (204, 279)],
    [(313, 386), (391, 466)],
    [(497, 571), (577, 653)],
    [(687, 763), (768, 842)],
]
band_bg_px = [(0, 112, '#d6dde7'), (115, 302, '#e4eeda'), (305, 490, '#e4eeda'),
              (494, 680, '#b8cae3'), (684, 871, '#b8cae3')]
sep_px = [(112, 115), (302, 305), (490, 494), (680, 684)]
ylabel_cy = [55, 201, 389, 575, 765]
ylabel_size = [7.6, 9.5, 9.5, 9.5, 9.5]
freq_label_pos = [(500, 104), (520, 295), (532, 481), (533, 670), (527, 862)]
panel_label_pos = [(3, 97), (8, 289), (8, 479), (8, 668), (8, 859)]

RED = '#ff2a2a'
BLUE = '#2020ff'

plt.rcParams['font.family'] = ['Liberation Serif', 'DejaVu Serif']
fig = plt.figure(figsize=(W / 100, H / 100), dpi=100)
fig.patch.set_facecolor('white')


def fx(x):
    return x / W


def fy(y):
    return 1 - y / H


for (y0, y1, col) in band_bg_px:
    fig.add_artist(Rectangle((fx(7), fy(y1)), fx(W - 7), (y1 - y0) / H,
                             transform=fig.transFigure, facecolor=col,
                             edgecolor='none', zorder=-10))
for (y0, y1) in sep_px:
    fig.add_artist(Rectangle((fx(7), fy(y1)), fx(W - 7), (y1 - y0) / H,
                             transform=fig.transFigure, facecolor='#7d7d7d',
                             edgecolor='none', zorder=-9))

for bi, rows in enumerate(band_series):
    nrows = len(rows)
    for ri, row in enumerate(rows):
        top, bot = band_rows_px[bi][ri]
        for ci, (red, blue) in enumerate(row):
            l, r = col_px[ci]
            ax = fig.add_axes([fx(l), fy(bot), (r - l) / W, (bot - top) / H])
            ax.set_facecolor('white')
            ax.plot([p[0] for p in red], [p[1] for p in red], color=RED, lw=1.15)
            ax.plot([p[0] for p in blue], [p[1] for p in blue], color=BLUE, lw=1.15)
            ax.set_xlim(0, 0.16)
            ax.set_ylim(0, 100)
            ax.set_xticks(freq_ticks)
            ax.set_yticks(mag_ticks)
            if ri == nrows - 1:
                ax.set_xticklabels(freq_tick_labels)
            else:
                ax.set_xticklabels([])
            if ci == 0:
                ax.set_yticklabels(mag_tick_labels)
            else:
                ax.set_yticklabels([])
            ax.tick_params(direction='in', length=2.5, width=0.6, top=True, right=True,
                           labelsize=6.6, pad=1.5)
            for s in ax.spines.values():
                s.set_linewidth(0.9)
                s.set_color('#202020')
            lbl = legend_labels[ci]
            handles = [Line2D([0], [0], color=RED, lw=1.5), Line2D([0], [0], color=BLUE, lw=1.5)]
            leg = ax.legend(handles, list(lbl), loc='upper right',
                            frameon=True, fancybox=False, edgecolor='black',
                            framealpha=1, handlelength=3.0, handletextpad=0.2,
                            borderpad=0.25, labelspacing=0.05, borderaxespad=0.6,
                            prop={'family': 'Liberation Sans', 'size': 5.4})
            leg.get_frame().set_linewidth(0.8)

    fig.text(fx(21), fy(ylabel_cy[bi]), 'Magnitude(A.U.)', rotation=90,
             ha='center', va='center', fontsize=ylabel_size[bi])
    x, y = freq_label_pos[bi]
    fig.text(fx(x), fy(y), 'Frequency(Hz)', ha='center', va='center', fontsize=8.8)
    x, y = panel_label_pos[bi]
    fig.text(fx(x), fy(y), panel_labels[bi], ha='left', va='center', fontsize=15,
             family=['Liberation Sans', 'DejaVu Sans'])

fig.savefig('out.png', dpi=100, facecolor='white')
